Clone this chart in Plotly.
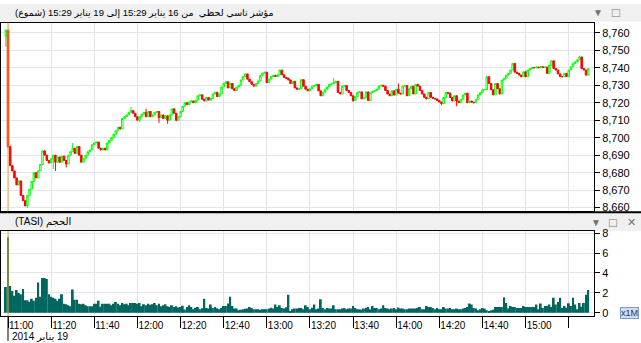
import plotly.graph_objects as go

W, H = 641, 343

# ---------------- data ----------------
prev_label = "16/01 15:29"
prev_candle = dict(open=8758, high=8762, low=8752, close=8761.5)

session_labels = []
for h in range(11, 16):
    for mm in range(60):
        if h == 15 and mm >= 30:
            break
        session_labels.append(f"19/01 {h}:{mm:02d}")

closes = [
    8695, 8684, 8681, 8677, 8673, 8675.3, 8667, 8664, 8661, 8667,
    8670.6, 8675, 8680, 8677, 8681, 8684.7, 8692.5, 8690, 8687, 8685.5,
    8688, 8690, 8686, 8689, 8686, 8689.5, 8687, 8685, 8690, 8692,
    8694, 8691, 8695, 8690, 8686, 8688, 8690, 8692, 8693, 8696,
    8697, 8697.5, 8694, 8693, 8694, 8693, 8697, 8698.5, 8700, 8702,
    8704, 8706, 8705, 8711, 8712, 8713, 8714.5, 8715.5, 8714, 8712,
    8710, 8712, 8713.5, 8714.5, 8712, 8715, 8712, 8713, 8714.5, 8715,
    8711.5, 8713, 8711, 8712.5, 8710, 8713, 8716.5, 8714, 8710, 8712,
    8715, 8718, 8720, 8719, 8720.5, 8721, 8720, 8721.5, 8724, 8724.5,
    8722, 8721, 8723, 8721.5, 8722.5, 8725, 8726, 8723.5, 8725, 8729,
    8731, 8732, 8728.5, 8731, 8728, 8727, 8729, 8730, 8733, 8735,
    8736.5, 8733.5, 8732, 8730.5, 8729.5, 8731, 8732.5, 8735.5, 8737, 8737.5,
    8731.5, 8733.5, 8735, 8735.7, 8735, 8736, 8738.7, 8736, 8734.5, 8734,
    8733, 8731, 8732.3, 8728.5, 8727.7, 8728, 8733.2, 8729.5, 8727.7, 8726.8,
    8728, 8729.5, 8729.8, 8730.5, 8726.8, 8724, 8726, 8727.7, 8729, 8730.5,
    8730.8, 8731.4, 8732.3, 8725.9, 8725, 8729.5, 8729.8, 8727, 8725.9, 8724,
    8721.3, 8723.5, 8725.9, 8726.2, 8722.2, 8723.1, 8726.2, 8721.3, 8725.9, 8726.5,
    8726.8, 8727.7, 8729.5, 8730, 8729.5, 8727, 8725, 8724, 8726.8, 8724.4,
    8727.7, 8725.5, 8725, 8729.5, 8729.8, 8724, 8728, 8729.5, 8725, 8730.5,
    8729.5, 8727, 8725, 8723.1, 8722.2, 8725.9, 8723.1, 8722.5, 8722.2, 8721.3,
    8720.4, 8719.5, 8723, 8725.8, 8725.5, 8723, 8721, 8724, 8721, 8720,
    8722, 8724.5, 8725.5, 8720, 8721, 8720.3, 8720, 8722, 8724.5, 8725.8,
    8727.4, 8727.6, 8734.9, 8731, 8727.4, 8724.5, 8731, 8728, 8725, 8733,
    8734, 8735.8, 8736.8, 8738.7, 8742.5, 8737.5, 8736.8, 8735.8, 8734.9, 8737.7,
    8734.9, 8738.7, 8739.6, 8740.2, 8740, 8740.4, 8740, 8740.6, 8740.2, 8740.4,
    8736.8, 8741.5, 8744, 8739.6, 8738.7, 8736.5, 8735, 8734.9, 8736.8, 8735,
    8738.7, 8740.6, 8742.5, 8743.4, 8744.5, 8746.2, 8739.6, 8738.7, 8735.8, 8739.5,
]

# notable wick extremes (session minute index -> price)
high_marks = {0: 8761.5, 30: 8697, 57: 8717.5, 64: 8716.6, 151: 8734, 181: 8731, 265: 8747}
low_marks = {0: 8694, 9: 8659.8, 21: 8682, 22: 8681, 27: 8683, 61: 8709, 70: 8708.5,
             74: 8708, 78: 8709.5, 160: 8720.5, 201: 8718.5, 208: 8718}

prev_volume = 2.6
volumes = [
    7.6, 2.7, 2.2, 1.7, 2.3, 2.0, 1.85, 2.4, 1.25, 1.25,
    1.1, 1.4, 1.2, 1.5, 3.05, 1.6, 3.5, 3.5, 3.4, 1.85,
    1.6, 1.5, 1.4, 1.2, 1.4, 1.85, 0.9, 0.85, 0.75, 0.65,
    2.35, 1.3, 1.3, 0.9, 0.85, 0.9, 0.75, 0.65, 0.65, 0.65,
    0.9, 0.9, 1.2, 0.6, 0.9, 0.91, 0.91, 0.91, 0.75, 0.91,
    1.08, 0.91, 0.75, 0.98, 0.85, 0.91, 0.75, 0.98, 0.98, 0.98,
    0.91, 0.98, 0.65, 0.85, 0.75, 0.91, 0.8, 0.85, 0.98, 0.75,
    0.91, 0.65, 0.75, 0.85, 0.65, 0.58, 0.75, 0.58, 0.65, 0.52,
    0.58, 0.7, 0.33, 0.58, 0.75, 0.59, 0.36, 0.5, 0.59, 0.36,
    0.45, 1.41, 0.49, 0.42, 0.82, 0.49, 0.59, 0.45, 0.36, 0.49,
    0.69, 0.69, 0.92, 1.6, 0.69, 0.42, 0.42, 0.26, 0.3, 0.36,
    0.4, 0.42, 0.59, 0.49, 0.36, 0.36, 0.36, 0.3, 0.36, 0.36,
    0.36, 0.42, 0.5, 0.42, 0.82, 0.59, 0.75, 0.49, 0.42, 0.56,
    1.8, 0.1, 0.36, 0.42, 0.42, 0.49, 0.49, 0.36, 0.75, 0.59,
    0.36, 0.5, 0.82, 0.36, 0.42, 1.35, 0.49, 0.36, 0.49, 0.42,
    0.42, 0.75, 0.36, 0.36, 0.36, 0.42, 0.49, 0.36, 0.42, 0.42,
    0.69, 0.49, 0.36, 0.36, 0.3, 0.42, 0.5, 0.59, 0.36, 0.69,
    0.49, 0.49, 0.36, 0.42, 0.75, 0.49, 0.42, 0.36, 0.42, 0.49,
    0.36, 0.53, 0.42, 0.42, 0.36, 0.36, 0.42, 0.42, 0.42, 0.42,
    0.49, 0.59, 0.36, 0.36, 0.69, 0.59, 0.59, 0.49, 0.36, 0.49,
    0.36, 0.36, 0.59, 0.42, 0.42, 0.49, 0.36, 0.36, 0.42, 0.36,
    0.36, 0.42, 0.49, 0.59, 0.92, 0.82, 0.49, 0.42, 0.26, 0.36,
    0.49, 0.42, 0.26, 0.16, 0.26, 0.3, 0.59, 0.59, 0.59, 0.59,
    1.57, 0.98, 0.42, 0.69, 0.59, 0.59, 0.49, 0.49, 0.49, 0.69,
    0.59, 0.59, 0.59, 0.59, 0.59, 0.82, 0.36, 0.92, 0.49, 0.69,
    0.69, 0.82, 0.59, 1.5, 0.82, 1.08, 1.5, 0.49, 0.69, 0.5,
    0.95, 0.69, 1.5, 0.82, 0.36, 0.98, 0.6, 0.98, 1.8, 2.3,
]

tick_categories = ["19/01 11:00", "19/01 11:20", "19/01 11:40", "19/01 12:00", "19/01 12:20",
                   "19/01 12:40", "19/01 13:00", "19/01 13:20", "19/01 13:40", "19/01 14:00",
                   "19/01 14:20", "19/01 14:40", "19/01 15:00", "19/01 15:20"]
tick_texts = ["11:00", "11:20", "11:40", "12:00", "12:20", "12:40", "13:00", "13:20",
              "13:40", "14:00", "14:20", "14:40", "15:00", ""]

title_text = "مؤشر تاسي لحظي  من 16 يناير 15:29 إلى 19 يناير 15:29 (شموع)"
volume_title = "الحجم (TASI)"
date_text = "19 يناير 2014"

# -------------- build OHLC --------------
x_all = [prev_label] + session_labels
c_all = [prev_candle["close"]] + closes
o_all = [prev_candle["open"]] + [prev_candle["close"]] + closes[:-1]
h_all = [prev_candle["high"]]
l_all = [prev_candle["low"]]
for i in range(len(closes)):
    o, c = o_all[i + 1], c_all[i + 1]
    h_all.append(max(high_marks.get(i, max(o, c)), o, c))
    l_all.append(min(low_marks.get(i, min(o, c)), o, c))
v_all = [prev_volume] + volumes

# -------------- geometry (pixels) --------------
PX_L, PX_R = 1, 594
MAIN_T, MAIN_B = 19, 211
VOL_T, VOL_B = 231, 318

def fx(p):
    return p / W

def fy(p):
    return 1 - p / H

GRID = "#e3e3f1"
FONT = "Liberation Sans"
HDR_FONT = "Liberation Sans, DejaVu Sans"

fig = go.Figure()
fig.add_trace(go.Candlestick(
    x=x_all, open=o_all, high=h_all, low=l_all, close=c_all,
    increasing=dict(line=dict(color="#00ff00", width=1), fillcolor="#ffffff"),
    decreasing=dict(line=dict(color="#ff0000", width=1), fillcolor="#ff0000"),
    whiskerwidth=0, xaxis="x", yaxis="y", showlegend=False, hoverinfo="skip",
))
fig.add_trace(go.Bar(
    x=x_all, y=v_all, marker=dict(color="#00665f", line=dict(width=0)),
    xaxis="x2", yaxis="y2", showlegend=False, hoverinfo="skip",
))

xrange = [-2.25, 272.7]
common_x = dict(
    type="category", range=xrange, tickmode="array", tickvals=tick_categories,
    showgrid=True, gridcolor=GRID, gridwidth=1, zeroline=False,
    showline=True, mirror=True, linecolor="#000000", linewidth=1,
    domain=[fx(PX_L), fx(PX_R)], fixedrange=True,
)
fig.update_layout(
    width=W, height=H, autosize=False,
    margin=dict(l=0, r=0, t=0, b=0, pad=0),
    paper_bgcolor="#ffffff", plot_bgcolor="#ffffff",
    boxgap=0.0, bargap=0.1,
    showlegend=False,
    font=dict(family=FONT, size=11, color="#000000"),
    xaxis=dict(common_x, anchor="y", showticklabels=False, ticks="",
               rangeslider=dict(visible=False)),
    xaxis2=dict(common_x, anchor="y2", ticktext=tick_texts, ticks="outside",
                ticklen=11, tickcolor="#000000", tickwidth=1,
                ticklabelposition="outside right", ticklabelstandoff=0,
                tickfont=dict(family=FONT, size=10, color="#000000")),
    yaxis=dict(domain=[fy(MAIN_B), fy(MAIN_T)], side="right", range=[8657.9, 8765.8],
               tick0=8660, dtick=10, tickformat=",d", ticks="outside", ticklen=5,
               tickcolor="#000000", showgrid=True, gridcolor=GRID, zeroline=False,
               showline=True, mirror=True, linecolor="#000000", linewidth=1,
               tickfont=dict(family=FONT, size=11, color="#000000"), fixedrange=True),
    yaxis2=dict(domain=[fy(VOL_B), fy(VOL_T)], side="right", range=[-0.37, 8.23],
                tick0=0, dtick=2, ticks="outside", ticklen=5, tickcolor="#000000",
                showgrid=True, gridcolor=GRID, zeroline=False,
                showline=True, mirror=True, linecolor="#000000", linewidth=1,
                tickfont=dict(family=FONT, size=11, color="#000000"), fixedrange=True),
)

shapes = [
    # header bars
    dict(type="rect", xref="paper", yref="paper", x0=0, x1=1, y0=fy(18), y1=1,
         fillcolor="#f0f0f0", line=dict(width=0), layer="below"),
    dict(type="rect", xref="paper", yref="paper", x0=0, x1=1, y0=fy(VOL_T), y1=fy(213),
         fillcolor="#f0f0f0", line=dict(width=0), layer="below"),
    # thick separator under main panel
    dict(type="line", xref="paper", yref="paper", x0=0, x1=1, y0=fy(212), y1=fy(212),
         line=dict(color="#000000", width=2)),
    # session start marker
    dict(type="line", xref="x", yref="y domain", x0=session_labels[0], x1=session_labels[0],
         y0=0, y1=1, line=dict(color="#f5a623", width=1)),
    dict(type="line", xref="x2", yref="y2 domain", x0=session_labels[0], x1=session_labels[0],
         y0=0, y1=1, line=dict(color="#f5a623", width=1)),
    # long date tick
    dict(type="line", xref="x2", yref="paper", x0=session_labels[0], x1=session_labels[0],
         y0=0, y1=fy(VOL_B), line=dict(color="#000000", width=1)),
]
fig.update_layout(shapes=shapes)

RLE, PDF = "\u202b", "\u202c"
ann = [
    dict(text=RLE + title_text + PDF, x=fx(13), y=fy(9), xanchor="left", yanchor="middle",
         font=dict(family=HDR_FONT, size=9.5, color="#000000")),
    dict(text=RLE + volume_title + PDF, x=fx(13), y=fy(222), xanchor="left", yanchor="middle",
         font=dict(family=HDR_FONT, size=10, color="#000000")),
    dict(text=RLE + date_text + PDF, x=fx(10), y=fy(338), xanchor="left", yanchor="middle",
         font=dict(family=HDR_FONT, size=10, color="#000000")),
    dict(text="▼", x=fx(598), y=fy(9), xanchor="center", yanchor="middle",
         font=dict(size=10, color="#707070")),
    dict(text="□", x=fx(616), y=fy(9), xanchor="center", yanchor="middle",
         font=dict(size=13, color="#707070")),
    dict(text="▼", x=fx(596), y=fy(222), xanchor="center", yanchor="middle",
         font=dict(size=10, color="#707070")),
    dict(text="□", x=fx(613), y=fy(222), xanchor="center", yanchor="middle",
         font=dict(size=13, color="#707070")),
    dict(text="✕", x=fx(631), y=fy(222), xanchor="center", yanchor="middle",
         font=dict(size=11, color="#707070")),
    dict(text="x1M", x=fx(629), y=fy(314), xanchor="center", yanchor="middle",
         font=dict(family=FONT, size=9, color="#1a3a7a"), bgcolor="#cfdcf0",
         bordercolor="#7f9cc8", borderwidth=1, borderpad=0),
]
for a in ann:
    a.update(xref="paper", yref="paper", showarrow=False)
fig.update_layout(annotations=ann)

fig.write_html("out.html")
